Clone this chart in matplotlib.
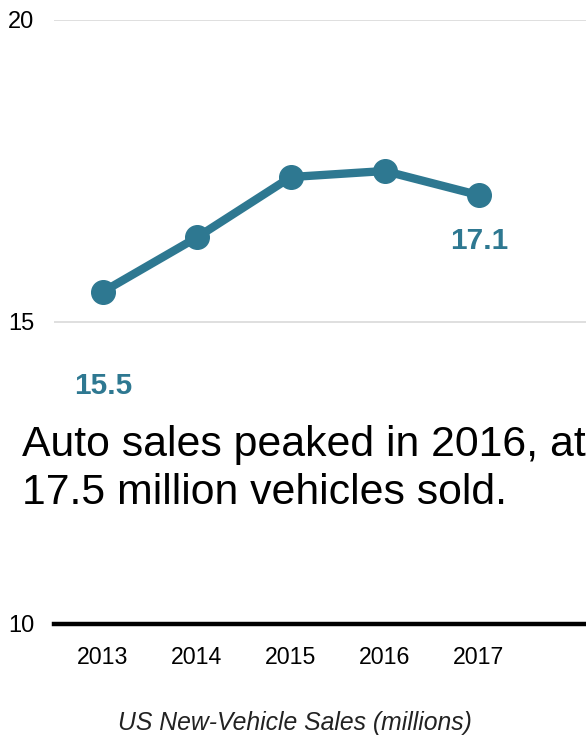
import matplotlib.pyplot as plt

plt.rcParams['font.family'] = ['Liberation Sans', 'DejaVu Sans']

years = [2013, 2014, 2015, 2016, 2017]
sales = [15.5, 16.4, 17.4, 17.5, 17.1]
yticks = [10, 15, 20]
teal = '#2e7891'

fig = plt.figure(figsize=(5.86, 7.38), dpi=100)
ax = fig.add_axes([54 / 586, 1 - 624 / 738, 1 - 54 / 586, 604 / 738])

ax.set_xlim(2012.48, 2018.14)
ax.set_ylim(10, 20)

# light gridlines, heavy baseline at 10
for y in yticks[1:]:
    ax.axhline(y, color='#d9d9d9', lw=1.2, zorder=1)
ax.axhline(yticks[0], color='black', lw=3.2, zorder=2, clip_on=False)

ax.plot(years, sales, color=teal, lw=6, marker='o', markersize=17,
        zorder=3, clip_on=False)

# value labels on first and last points
ax.annotate(f'{sales[0]:.1f}', (years[0], sales[0]), xytext=(0, -68),
            textcoords='offset points', ha='center', va='center',
            fontsize=21.5, fontweight='bold', color=teal)
ax.annotate(f'{sales[-1]:.1f}', (years[-1], sales[-1]), xytext=(0, -33),
            textcoords='offset points', ha='center', va='center',
            fontsize=21.5, fontweight='bold', color=teal)

for s in ax.spines.values():
    s.set_visible(False)

ax.set_yticks(yticks)
ax.set_yticklabels([str(t) for t in yticks], fontsize=17)
ax.set_xticks(years)
ax.set_xticklabels([str(y) for y in years], fontsize=16.7)
ax.tick_params(axis='both', length=0)
ax.tick_params(axis='y', pad=14)
ax.tick_params(axis='x', pad=15.5)

fig.text(22 / 586, 1 - 504 / 738, 'Auto sales peaked in 2016, at\n17.5 million vehicles sold.',
         fontsize=30.8, ha='left', va='baseline', linespacing=1.26)

fig.text(295 / 586, 1 - 723 / 738, 'US New-Vehicle Sales (millions)',
         fontsize=17.8, style='italic', ha='center', va='center', color='#222222')

fig.savefig('out.png', dpi=100)
